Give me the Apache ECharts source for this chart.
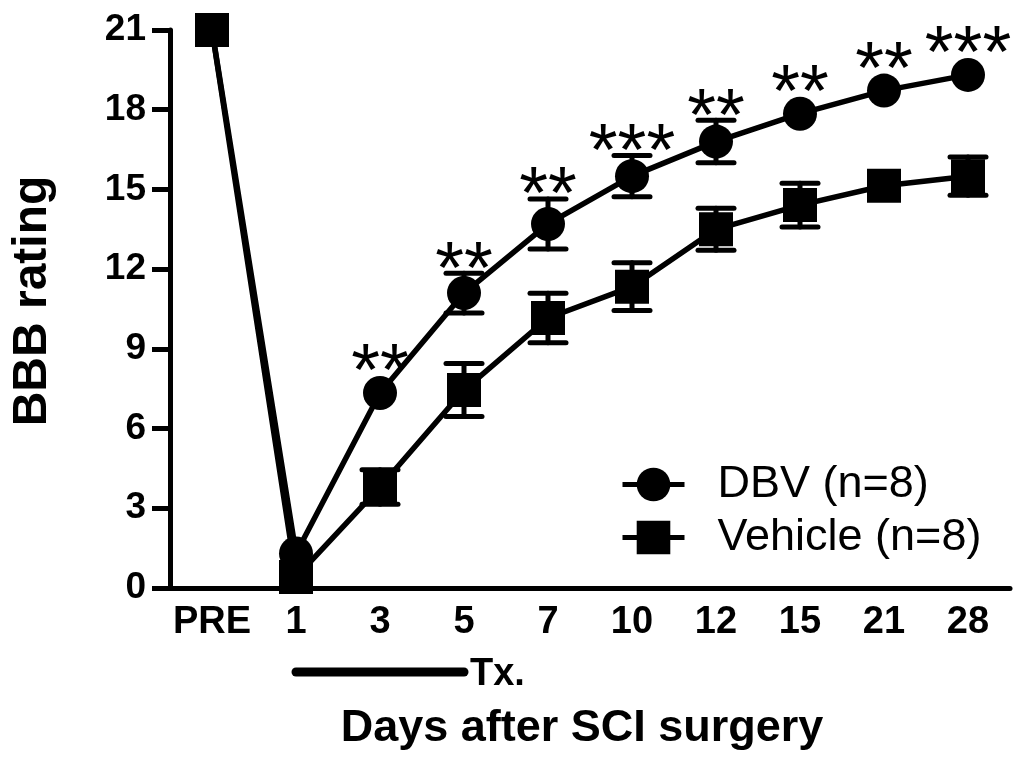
<!DOCTYPE html>
<html>
<head>
<meta charset="utf-8">
<script src="https://cdn.jsdelivr.net/npm/echarts@6/dist/echarts.min.js"></script>
<style>html,body{margin:0;padding:0;background:#fff;}#c{width:1024px;height:762px;}</style>
</head>
<body>
<div id="c"></div>
<script>
const days = ['PRE', '1', '3', '5', '7', '10', '12', '15', '21', '28'];
const dbvMean = [21, 1.3, 7.34, 11.1, 13.7, 15.5, 16.8, 17.85, 18.72, 19.31];
const dbvSem = [0, 0.3, 0.3, 0.75, 0.94, 0.78, 0.8, 0.61, 0.3, 0.3];
const vehMean = [21, 0.41, 3.8, 7.45, 10.16, 11.34, 13.5, 14.41, 15.14, 15.5];
const vehSem = [0, 0.3, 0.65, 1.0, 0.93, 0.9, 0.79, 0.82, 0.5, 0.72];
const sigMarks = ['', '', '**', '**', '**', '***', '**', '**', '**', '***'];
const yTicks = [0, 3, 6, 9, 12, 15, 18, 21];

const FONT = '"Liberation Sans", Arial, sans-serif';
const MARK = 34;
const chart = echarts.init(document.getElementById('c'), null, {renderer: 'canvas'});

function errData(mean, sem) {
  return mean.map((m, i) => [i, m - sem[i], m + sem[i]]);
}
function renderErr(params, api) {
  const i = api.value(0);
  const lo = api.coord([i, api.value(1)]);
  const hi = api.coord([i, api.value(2)]);
  // bars hidden behind the marker are not drawn (as in the source figure)
  if ((lo[1] - hi[1]) / 2 < MARK / 2) return null;
  const hw = 18;
  const st = {stroke: '#000', lineWidth: 5, lineCap: 'round'};
  return {
    type: 'group',
    children: [
      {type: 'line', shape: {x1: lo[0], y1: lo[1], x2: hi[0], y2: hi[1]}, style: st},
      {type: 'line', shape: {x1: lo[0] - hw, y1: lo[1], x2: lo[0] + hw, y2: lo[1]}, style: st},
      {type: 'line', shape: {x1: hi[0] - hw, y1: hi[1], x2: hi[0] + hw, y2: hi[1]}, style: st}
    ]
  };
}
const sigData = dbvMean.map((m, i) => [i, m + Math.max(dbvSem[i], 0.64), sigMarks[i]]);

chart.setOption({
  animation: false,
  backgroundColor: '#fff',
  grid: {left: 170, right: 14, top: 30, bottom: 174, containLabel: false},
  legend: {
    orient: 'vertical',
    left: 620, top: 462, padding: 0,
    itemWidth: 62, itemHeight: 42, itemGap: 8,
    lineStyle: {width: 5},
    textStyle: {fontFamily: FONT, fontSize: 45, color: '#000', lineHeight: 42, padding: [0, 0, 0, 28]},
    data: [{name: 'DBV (n=8)'}, {name: 'Vehicle (n=8)'}]
  },
  xAxis: {
    type: 'category',
    data: days,
    boundaryGap: true,
    name: 'Days after SCI surgery',
    nameLocation: 'middle',
    nameGap: 118,
    nameTextStyle: {fontFamily: FONT, fontSize: 45, fontWeight: 'bold', color: '#000', padding: [0, 16, 0, 0]},
    axisLine: {lineStyle: {color: '#000', width: 5}},
    axisTick: {alignWithLabel: true, interval: 0, length: 13, lineStyle: {color: '#000', width: 5}},
    axisLabel: {interval: 0, fontFamily: FONT, fontSize: 38, fontWeight: 'bold', color: '#000', margin: 16},
    splitLine: {show: false}
  },
  yAxis: {
    type: 'value',
    min: 0, max: 21, interval: 3,
    name: 'BBB rating',
    nameLocation: 'middle',
    nameGap: 113,
    nameRotate: 90,
    nameTextStyle: {fontFamily: FONT, fontSize: 48, fontWeight: 'bold', color: '#000', padding: [0, 0, 0, 16]},
    axisLine: {show: true, lineStyle: {color: '#000', width: 5}},
    axisTick: {show: true, length: 18, lineStyle: {color: '#000', width: 5}},
    axisLabel: {fontFamily: FONT, fontSize: 37, fontWeight: 'bold', color: '#000', margin: 24,
      formatter: v => (yTicks.indexOf(v) >= 0 ? String(v) : '')},
    splitLine: {show: false}
  },
  series: [
    {
      type: 'custom', name: 'dbvErr', renderItem: renderErr, data: errData(dbvMean, dbvSem),
      encode: {x: 0, y: [1, 2]}, z: 1, silent: true
    },
    {
      type: 'custom', name: 'vehErr', renderItem: renderErr, data: errData(vehMean, vehSem),
      encode: {x: 0, y: [1, 2]}, z: 1, silent: true
    },
    {
      name: 'DBV (n=8)', type: 'line', data: dbvMean,
      symbol: 'circle', symbolSize: MARK,
      itemStyle: {color: '#000'},
      lineStyle: {color: '#000', width: 5.5},
      z: 3
    },
    {
      name: 'Vehicle (n=8)', type: 'line', data: vehMean,
      symbol: 'rect', symbolSize: MARK,
      itemStyle: {color: '#000'},
      lineStyle: {color: '#000', width: 5.5},
      z: 4
    },
    {
      type: 'custom', name: 'sig', data: sigData, encode: {x: 0, y: 1}, z: 5, silent: true,
      renderItem: function (params, api) {
        const p = api.coord([api.value(0), api.value(1)]);
        const txt = sigMarks[params.dataIndex];
        return {
          type: 'text',
          style: {
            x: p[0], y: p[1] - 1, text: txt,
            fontFamily: FONT, fontSize: 74, fill: '#000',
            align: 'center', verticalAlign: 'middle'
          }
        };
      }
    }
  ]
});

// Treatment period bar (days 1 to 5) under the axis
const xs = chart.convertToPixel({xAxisIndex: 0}, '1');
const xe = chart.convertToPixel({xAxisIndex: 0}, '5');
const y0 = chart.convertToPixel({yAxisIndex: 0}, 0);
chart.setOption({
  graphic: [
    {type: 'line', shape: {x1: xs, y1: y0 + 84, x2: xe, y2: y0 + 84},
     style: {stroke: '#000', lineWidth: 9, lineCap: 'round'}},
    {type: 'text', x: xe + 6, y: y0 + 87,
     style: {text: 'Tx.', fontFamily: FONT, fontSize: 38, fontWeight: 'bold', fill: '#000', verticalAlign: 'middle'}}
  ]
});
</script>
</body>
</html>
